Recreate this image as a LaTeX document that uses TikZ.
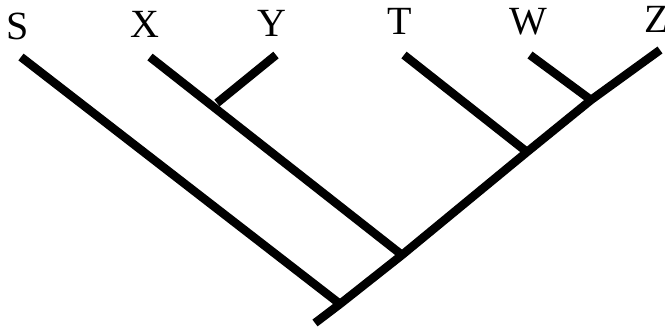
\documentclass[tikz,border=0pt]{standalone}
\usepackage{fontspec}
\setmainfont{Liberation Serif}
\begin{document}
\begin{tikzpicture}[x=1pt,y=-1pt,
  branch/.style={line width=8.5pt,line cap=butt,line join=round},
  taxon/.style={anchor=base,inner sep=0pt,font=\fontsize{40}{44}\selectfont}]
\useasboundingbox (0,0) rectangle (665,328);
% labels
\node[taxon] (S) at (18,40) {S};
\node[taxon] (X) at (145,38) {X};
\node[taxon] (Y) at (272,37) {Y};
\node[taxon] (T) at (400,35) {T};
\node[taxon] (W) at (528,35) {W};
\node[taxon] (Z) at (657,33) {Z};
% leaf tips
\coordinate (s) at (21,57);
\coordinate (x) at (150,57);
\coordinate (y) at (276,55);
\coordinate (t) at (404,55);
\coordinate (w) at (530,55);
\coordinate (z) at (660,50);
% junctions
\coordinate (root) at (315,323);
\coordinate (jS) at (340,304);
\coordinate (jX) at (402,255);
\coordinate (jY) at (217,103);
\coordinate (jT) at (527,152);
\coordinate (jW) at (591,100);
% branches
\draw[branch] (root) -- (jS) -- (jX) -- (jT) -- (jW) -- (z);
\draw[branch] (s) -- (jS);
\draw[branch] (x) -- (jX);
\draw[branch] (y) -- (jY);
\draw[branch] (t) -- (jT);
\draw[branch] (w) -- (jW);
\end{tikzpicture}
\end{document}
